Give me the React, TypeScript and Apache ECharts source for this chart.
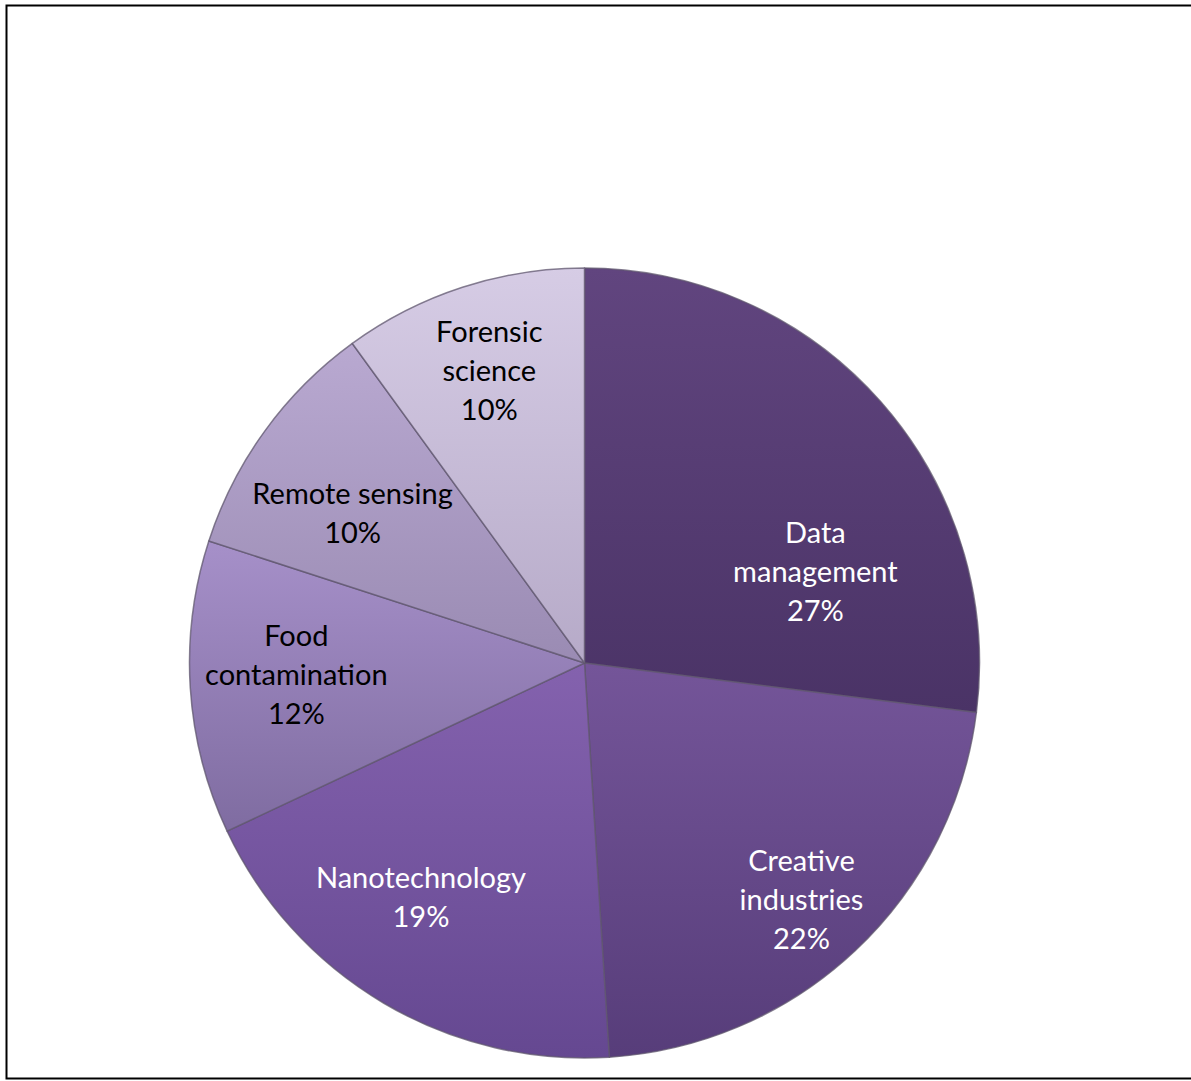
import React, { useEffect, useRef } from "react";
import * as echarts from "echarts";

const categories = [
  "Data management",
  "Creative industries",
  "Nanotechnology",
  "Food contamination",
  "Remote sensing",
  "Forensic science",
];
const values = [27, 22, 19, 12, 10, 10];
const labelLines = [
  "Data\nmanagement\n27%",
  "Creative\nindustries\n22%",
  "Nanotechnology\n19%",
  "Food\ncontamination\n12%",
  "Remote sensing\n10%",
  "Forensic\nscience\n10%",
];
const topColors = ["#61457f", "#745599", "#8462ae", "#a690c9", "#b9a9d1", "#d6cce5"];
const bottomColors = ["#4a3366", "#573d7a", "#654891", "#7f6ca1", "#9a8bb3", "#b6aac8"];
const textColors = ["#ffffff", "#ffffff", "#ffffff", "#000000", "#000000", "#000000"];
// label placement: radius fraction and angular shift (deg) from slice mid-angle
const labelRadiusFrac = [0.63, 0.81, 0.72, 0.73, 0.7, 0.78];
const labelAngleShift = [19.5, 0.5, 4.5, 1.5, -3, 0];

const CX = 584.5;
const CY = 663;
const R = 395;

export default function App() {
  const ref = useRef<HTMLDivElement>(null);
  useEffect(() => {
    if (!ref.current) return;
    const chart = echarts.init(ref.current, undefined, { renderer: "svg" });
    const total = values.reduce((a, b) => a + b, 0);
    const mids: number[] = [];
    let acc = 0;
    values.forEach((v) => {
      mids.push(((acc + v / 2) / total) * 360);
      acc += v;
    });
    chart.setOption({
      animation: false,
      backgroundColor: "#ffffff",
      graphic: [
        {
          type: "rect",
          shape: { x: 6.5, y: 5.5, width: 1200, height: 1073 },
          style: { fill: "none", stroke: "#000000", lineWidth: 2 },
          z: 100,
        },
      ],
      series: [
        {
          type: "pie",
          center: [CX, CY],
          radius: [0, R],
          startAngle: 90,
          clockwise: true,
          avoidLabelOverlap: false,
          label: {
            show: true,
            position: "inside",
            fontFamily: "Lato",
            fontSize: 29,
            lineHeight: 39,
            align: "center",
          },
          labelLine: { show: false },
          labelLayout: (params: any) => {
            const i = params.dataIndex;
            const ang = ((mids[i] + labelAngleShift[i]) * Math.PI) / 180;
            const r = R * labelRadiusFrac[i];
            return {
              x: CX + r * Math.sin(ang),
              y: CY - r * Math.cos(ang),
              align: "center",
              verticalAlign: "middle",
            };
          },
          itemStyle: {
            borderColor: "rgba(95,85,110,0.75)",
            borderWidth: 1.5,
          },
          emphasis: { disabled: true },
          data: categories.map((name, i) => ({
            name,
            value: values[i],
            itemStyle: {
              color: new echarts.graphic.LinearGradient(0, 0, 0, 1, [
                { offset: 0, color: topColors[i] },
                { offset: 1, color: bottomColors[i] },
              ]),
            },
            label: {
              formatter: labelLines[i],
              color: textColors[i],
            },
          })),
        },
      ],
    });
    return () => chart.dispose();
  }, []);
  return (
    <div
      ref={ref}
      style={{ position: "absolute", left: 0, top: 0, width: 1191, height: 1081 }}
    />
  );
}
